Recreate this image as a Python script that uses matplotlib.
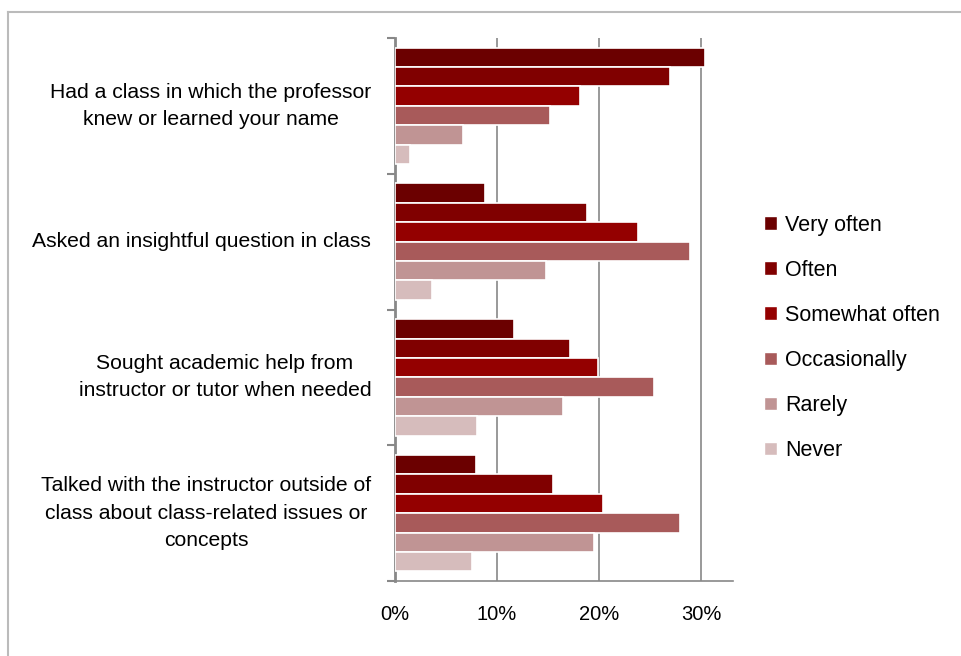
import matplotlib
matplotlib.use("Agg")
import matplotlib.pyplot as plt
from matplotlib.lines import Line2D
from matplotlib.patches import Patch
import numpy as np

categories = [
    "Had a class in which the professor\nknew or learned your name",
    "Asked an insightful question in class",
    "Sought academic help from\ninstructor or tutor when needed",
    "Talked with the instructor outside of\nclass about class-related issues or\nconcepts",
]
series_names = ["Very often", "Often", "Somewhat often", "Occasionally", "Rarely", "Never"]
very_often     = [30.4, 8.8, 11.7, 7.9]
often          = [26.9, 18.8, 17.1, 15.5]
somewhat_often = [18.1, 23.8, 19.9, 20.4]
occasionally   = [15.2, 28.9, 25.4, 27.9]
rarely         = [6.7, 14.8, 16.5, 19.5]
never          = [1.5, 3.6, 8.0, 7.5]
xticks = [0, 10, 20, 30]
xtick_labels = ["0%", "10%", "20%", "30%"]

series = [very_often, often, somewhat_often, occasionally, rarely, never]
colors = ["#6B0000", "#800000", "#940000", "#A85A5A", "#C09494", "#D6BCBC"]

plt.rcParams['font.family'] = ['Liberation Sans', 'DejaVu Sans']

fig = plt.figure(figsize=(9.61, 6.56), dpi=100)
ax = fig.add_axes([395/961, 1-581/656, (733-395)/961, (581-38)/656])

n = len(categories)
pitch = 0.143
for i, (vals, c) in enumerate(zip(series, colors)):
    y = np.arange(n) + (i - 2.5) * pitch
    ax.barh(y, vals, height=pitch, color=c, edgecolor="white", linewidth=1.2, zorder=3)

ax.set_ylim(n - 0.5, -0.5)
ax.set_xlim(0, 33.1)
ax.set_xticks(xticks)
ax.set_xticklabels(xtick_labels, fontsize=14.5)
ax.tick_params(axis='x', length=0, pad=17)
ax.set_yticks([])
ax.set_yticks(np.arange(-0.5, n, 1.0), minor=True)
ax.tick_params(axis='y', which='minor', length=6, width=1.5, color="#888888", direction='out')
for i, lab in enumerate(categories):
    ax.text(-0.07, i, lab, transform=ax.get_yaxis_transform(), ha='right', va='center',
            multialignment='center', fontsize=15.2, linespacing=1.55)

ax.grid(axis='x', color="#888888", linewidth=1.2, zorder=0)
for s in ['top', 'right']:
    ax.spines[s].set_visible(False)
ax.spines['left'].set_color("#888888")
ax.spines['left'].set_linewidth(2)
ax.spines['bottom'].set_color("#888888")
ax.spines['bottom'].set_linewidth(1.2)

handles = [Patch(facecolor=c, edgecolor='white', label=nm) for c, nm in zip(colors, series_names)]
fig.legend(handles=handles, loc='upper left', bbox_to_anchor=(755/961, 1-206/656),
           frameon=False, fontsize=15.5, handlelength=0.6, handleheight=0.6,
           handletextpad=0.4, labelspacing=1.12, borderaxespad=0)

fig.add_artist(Line2D([8/961, 8/961], [0, 1-12/656], transform=fig.transFigure, color="#BBBBBB", linewidth=1.5))
fig.add_artist(Line2D([8/961, 1], [1-12/656, 1-12/656], transform=fig.transFigure, color="#BBBBBB", linewidth=1.5))

fig.savefig("out.png", dpi=100)
